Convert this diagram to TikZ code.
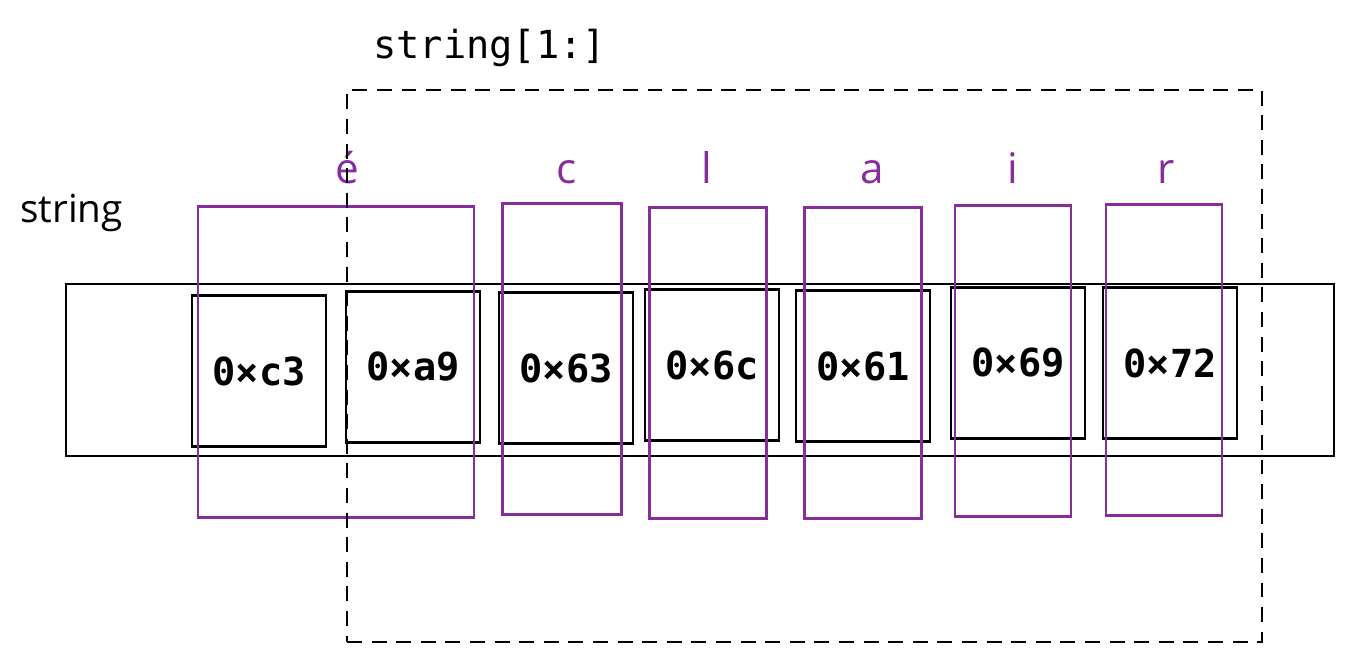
\documentclass[tikz,border=0pt]{standalone}
\usepackage{fontspec}
\usetikzlibrary{positioning}
\newfontfamily\hexfont{DejaVu Sans Mono}
\newfontfamily\handfont{Open Sans}
\definecolor{charpurple}{HTML}{862E9C}

\begin{document}
\begin{tikzpicture}[
        x=0.02cm, y=-0.02cm,
        strip/.style={draw, line width=1.2pt, minimum width=25.36cm, minimum height=3.44cm, inner sep=0pt},
        bytebox/.style={draw, line width=1.2pt, minimum width=2.68cm, minimum height=3.02cm, inner sep=0pt, font=\hexfont\bfseries\fontsize{22}{26}\selectfont},
        charbox/.style={draw=charpurple, line width=1.3pt, minimum height=6.22cm, inner sep=0pt},
        charlbl/.style={text=charpurple, anchor=base, inner sep=0pt, font=\handfont\fontsize{24}{28}\selectfont},
        slicebox/.style={draw, dash pattern=on 8.5pt off 5.5pt, line width=1.3pt, minimum width=18.3cm, minimum height=11.04cm, inner sep=0pt},
        title/.style={anchor=base west, inner sep=0pt}
    ]

    \useasboundingbox (0,0) rectangle (1354,663);

    \node[strip] (mem) at (700,370) {};

    \node[bytebox] (b1) at (259,371) {0×c3\hspace{0.2cm}};
    \node[bytebox] (b2) at (413,367) {0×a9};
    \node[bytebox] (b3) at (566,368) {0×63\hspace{0.15cm}};
    \node[bytebox] (b4) at (712,365) {0×6c\hspace{0.15cm}};
    \node[bytebox] (b5) at (863,366) {0×61\hspace{0.15cm}};
    \node[bytebox] (b6) at (1018,363) {0×69};
    \node[bytebox] (b7) at (1170,363) {0×72};

    \node[charbox, minimum width=5.52cm] (c1) at (336,362) {};
    \node[charbox, minimum width=2.38cm] (c2) at (562,359) {};
    \node[charbox, minimum width=2.34cm] (c3) at (708,363) {};
    \node[charbox, minimum width=2.34cm] (c4) at (863,363) {};
    \node[charbox, minimum width=2.32cm] (c5) at (1013,361) {};
    \node[charbox, minimum width=2.32cm] (c6) at (1164,360) {};

    \node[charlbl] (l1) at (347,183) {é};
    \node[charlbl] (l2) at (567,183) {c};
    \node[charlbl] (l3) at (707,183) {l};
    \node[charlbl] (l4) at (872,183) {a};
    \node[charlbl] (l5) at (1013,183) {i};
    \node[charlbl] (l6) at (1166,183) {r};

    \node[slicebox] (slice) at (804.5,366) {};

    \node[title, font=\hexfont\fontsize{22}{26}\selectfont] (slicename) at (373,58) {string[1:]};
    \node[title, font=\handfont\fontsize{22}{26}\selectfont] (strname) at (20,222) {string};
\end{tikzpicture}
\end{document}
